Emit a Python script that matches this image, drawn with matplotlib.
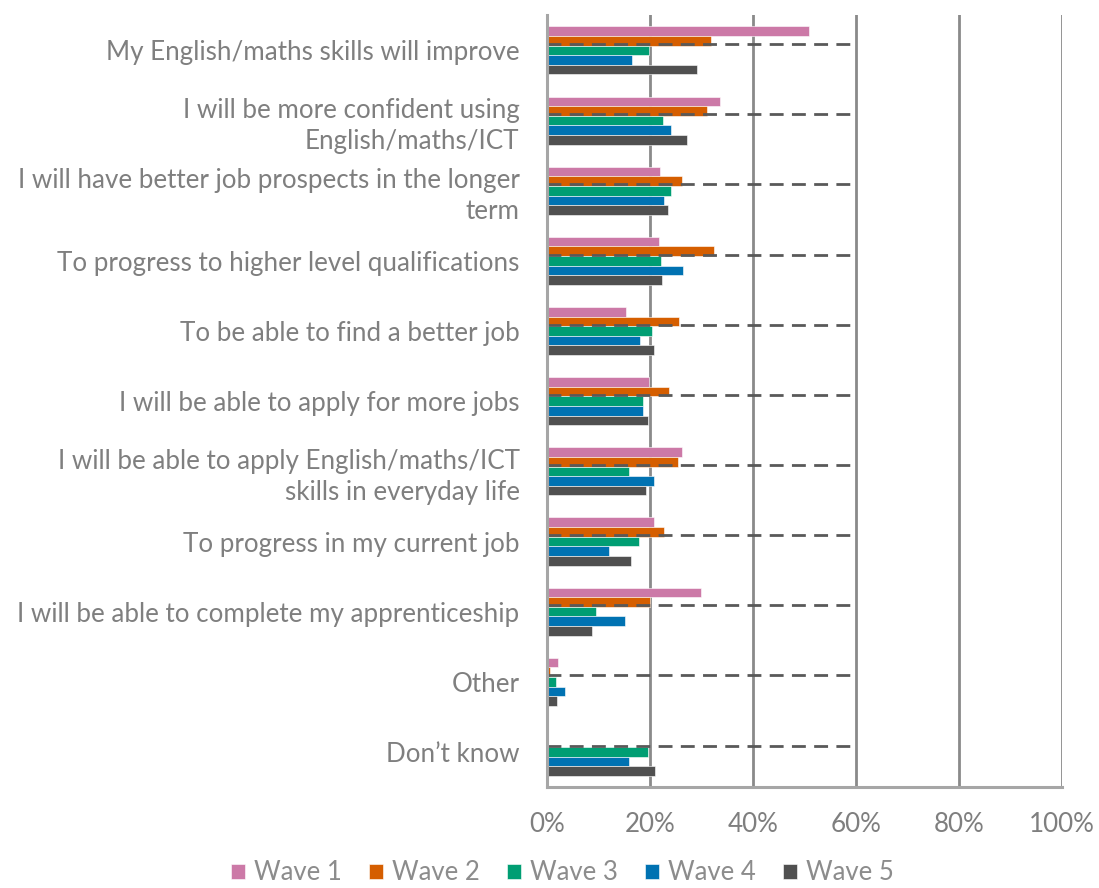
import matplotlib
matplotlib.use("Agg")
import matplotlib.pyplot as plt
import numpy as np

categories = [
    "My English/maths skills will improve",
    "I will be more confident using\nEnglish/maths/ICT",
    "I will have better job prospects in the longer\nterm",
    "To progress to higher level qualifications",
    "To be able to find a better job",
    "I will be able to apply for more jobs",
    "I will be able to apply English/maths/ICT\nskills in everyday life",
    "To progress in my current job",
    "I will be able to complete my apprenticeship",
    "Other",
    "Don\u2019t know",
]

wave_names = ["Wave 1", "Wave 2", "Wave 3", "Wave 4", "Wave 5"]

wave1 = [50.8, 33.6, 21.8, 21.7, 15.3, 19.7, 26.2, 20.7, 29.8, 2.1, 0.0]
wave2 = [31.7, 31.0, 26.2, 32.3, 25.6, 23.6, 25.3, 22.7, 19.9, 0.5, 0.0]
wave3 = [19.7, 22.5, 24.0, 22.1, 20.3, 18.6, 15.8, 17.8, 9.5, 1.7, 19.5]
wave4 = [16.4, 24.0, 22.7, 26.4, 18.1, 18.5, 20.7, 11.9, 15.1, 3.5, 15.9]
wave5 = [29.1, 27.1, 23.4, 22.3, 20.7, 19.5, 19.2, 16.2, 8.7, 1.8, 20.9]

x_ticks = [0, 20, 40, 60, 80, 100]
x_tick_labels = ["0%", "20%", "40%", "60%", "80%", "100%"]

colors = ["#CC79A7", "#D55E00", "#009E73", "#0072B2", "#505050"]

plt.rcParams["font.family"] = ["Lato", "DejaVu Sans"]

fig = plt.figure(figsize=(10.99, 8.88), dpi=100)
ax = fig.add_axes([0.498, 0.1137, 0.4685, 0.869])

series = [wave1, wave2, wave3, wave4, wave5]
y = np.arange(len(categories))
bar_h = 0.137
for i, (vals, col, name) in enumerate(zip(series, colors, wave_names)):
    offset = (i - 2) * bar_h
    ax.barh(y + offset, vals, height=bar_h, color=col, label=name,
            edgecolor="white", linewidth=0.4, zorder=2)

# dashed reference line through each category
for yi in y:
    ax.plot([0, 59], [yi - 0.09, yi - 0.09], color="#595959", lw=2.0,
            ls=(0, (5, 3)), zorder=4, solid_capstyle="butt")

ax.set_xlim(0, 100)
ax.set_ylim(len(categories) - 0.5, -0.5)
ax.set_xticks(x_ticks)
ax.set_xticklabels(x_tick_labels)
ax.set_yticks(y)
ax.set_yticklabels(categories, linespacing=1.3)

ax.xaxis.grid(True, color="#8a8a8a", linewidth=2.0, zorder=1)
ax.set_axisbelow(True)
for s in ["top", "right"]:
    ax.spines[s].set_visible(False)
for s in ["left", "bottom"]:
    ax.spines[s].set_color("#a6a6a6")
    ax.spines[s].set_linewidth(2.2)
ax.spines["left"].set_zorder(5)

ax.tick_params(axis="both", length=0, labelcolor="#7f7f7f", labelsize=18.7)
ax.tick_params(axis="y", pad=20)
ax.tick_params(axis="x", pad=18)

handles, labels = ax.get_legend_handles_labels()
fig.legend(handles, labels, loc="center", bbox_to_anchor=(0.512, 0.017),
           ncol=5, frameon=False, fontsize=18.5, labelcolor="#8c8c8c",
           handlelength=0.55, handleheight=0.55, handletextpad=0.35,
           columnspacing=1.05, borderpad=0.2)

fig.savefig("out.png", dpi=100)
